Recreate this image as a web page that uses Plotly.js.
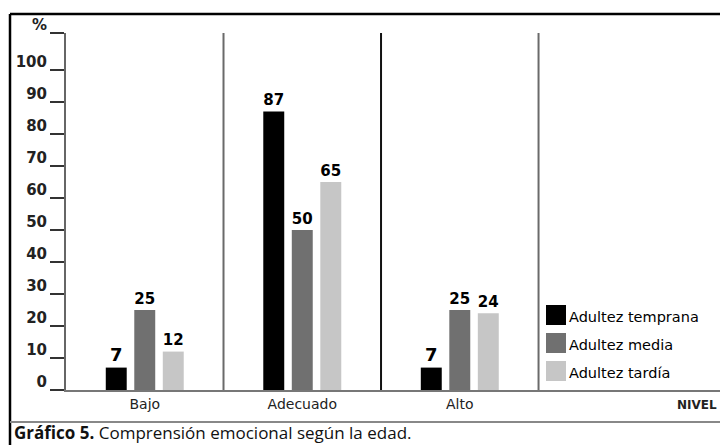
<!DOCTYPE html>
<html>
<head>
<meta charset="utf-8">
<script src="https://cdn.plot.ly/plotly-3.0.1.min.js"></script>
<style>html,body{margin:0;padding:0;background:#fff;}#chart{width:720px;height:445px;}</style>
</head>
<body>
<div id="chart"></div>
<script>
// ---- data ----
const categories = ["Bajo", "Adecuado", "Alto"];
const seriesNames = ["Adultez temprana", "Adultez media", "Adultez tardía"];
const temprana = [7, 87, 7];
const media = [25, 50, 25];
const tardia = [12, 65, 24];
const yTickVals = [0, 10, 20, 30, 40, 50, 60, 70, 80, 90, 100, 111.5];
const yTickText = ["0", "10", "20", "30", "40", "50", "60", "70", "80", "90", "100", "%"];
const xAxisName = "NIVEL";
const captionBold = "Gráfico 5.";
const captionText = "Comprensión emocional según la edad.";

// ---- styling ----
const colors = ["#000000", "#707070", "#c6c6c6"];
const FONT = "'DejaVu Sans', sans-serif";
const W = 720, H = 445, L = 66, R = 0, T = 33, B = 55;
const px = x => (x - L) / (W - L - R);
const py = y => (H - B - y) / (H - T - B);

const seriesValues = [temprana, media, tardia];
const traces = seriesValues.map((vals, i) => ({
  type: "bar",
  name: seriesNames[i],
  x: categories,
  y: vals,
  marker: { color: colors[i], line: { width: 0 } },
  text: vals.map(String),
  textposition: "outside",
  textfont: { family: FONT, size: 18, color: "#000", weight: "bold", stretch: "condensed" },
  cliponaxis: false,
  showlegend: false,
  hoverinfo: "skip"
}));

const shapes = [];
const annotations = [];
// category separators
const sepColors = ["#6a6a6a", "#111111", "#6a6a6a"];
[0.5, 1.5, 2.5].forEach((xv, i) => {
  shapes.push({ type: "line", xref: "x", yref: "paper", x0: xv, x1: xv, y0: 0, y1: 1,
    line: { color: sepColors[i], width: 2 } });
});
// frame lines
shapes.push({ type: "line", xref: "paper", yref: "paper", x0: px(10), x1: px(720), y0: py(14), y1: py(14), line: { color: "#000", width: 2.5 } });
shapes.push({ type: "line", xref: "paper", yref: "paper", x0: px(10), x1: px(10), y0: py(14), y1: py(445), line: { color: "#000", width: 2.5 } });
shapes.push({ type: "line", xref: "paper", yref: "paper", x0: px(10), x1: px(720), y0: py(422), y1: py(422), line: { color: "#888", width: 2 } });
// legend (custom, built from series arrays)
seriesNames.forEach((name, i) => {
  const top = 305 + i * 28;
  shapes.push({ type: "rect", xref: "paper", yref: "paper", x0: px(546), x1: px(566), y0: py(top + 20), y1: py(top),
    fillcolor: colors[i], line: { width: 0 } });
  annotations.push({ xref: "paper", yref: "paper", x: px(567), y: py(top + 12), xanchor: "left", yanchor: "middle",
    text: name, showarrow: false, font: { family: FONT, size: 14.5, color: "#000", stretch: "condensed" } });
});
// axis name
annotations.push({ xref: "paper", yref: "paper", x: px(719), y: py(405), xanchor: "right", yanchor: "middle",
  text: xAxisName, showarrow: false, font: { family: FONT, size: 12, color: "#222", weight: "bold", stretch: "condensed" } });
// caption
annotations.push({ xref: "paper", yref: "paper", x: px(12), y: py(432), xanchor: "left", yanchor: "middle",
  text: "<b>" + captionBold + "</b> " + captionText, showarrow: false,
  font: { family: "'Open Sans', 'Noto Sans', sans-serif", size: 17, color: "#111", stretch: "condensed" } });

const layout = {
  width: W, height: H,
  margin: { l: L, r: R, t: T, b: B, pad: 0 },
  paper_bgcolor: "#fff", plot_bgcolor: "#fff",
  barmode: "group", bargap: 0.457, bargroupgap: 0.265,
  showlegend: false,
  xaxis: {
    type: "category", range: [-0.5, 3.652], fixedrange: true,
    showgrid: false, zeroline: false, showline: true, linecolor: "#777", linewidth: 2,
    ticks: "", tickfont: { family: FONT, size: 14, color: "#222", stretch: "condensed" }
  },
  yaxis: {
    range: [0, 111.5], fixedrange: true, showgrid: false, zeroline: false,
    showline: true, linecolor: "#666", linewidth: 2,
    tickmode: "array", tickvals: yTickVals, ticktext: yTickText,
    ticks: "outside", ticklen: 14, tickwidth: 2, tickcolor: "#333",
    ticklabelshift: -8, ticklabelstandoff: 0,
    tickfont: { family: FONT, size: 15, color: "#222", weight: "bold", stretch: "condensed" }
  },
  shapes: shapes,
  annotations: annotations
};

Plotly.newPlot("chart", traces, layout, { staticPlot: true, displayModeBar: false });
</script>
</body>
</html>
